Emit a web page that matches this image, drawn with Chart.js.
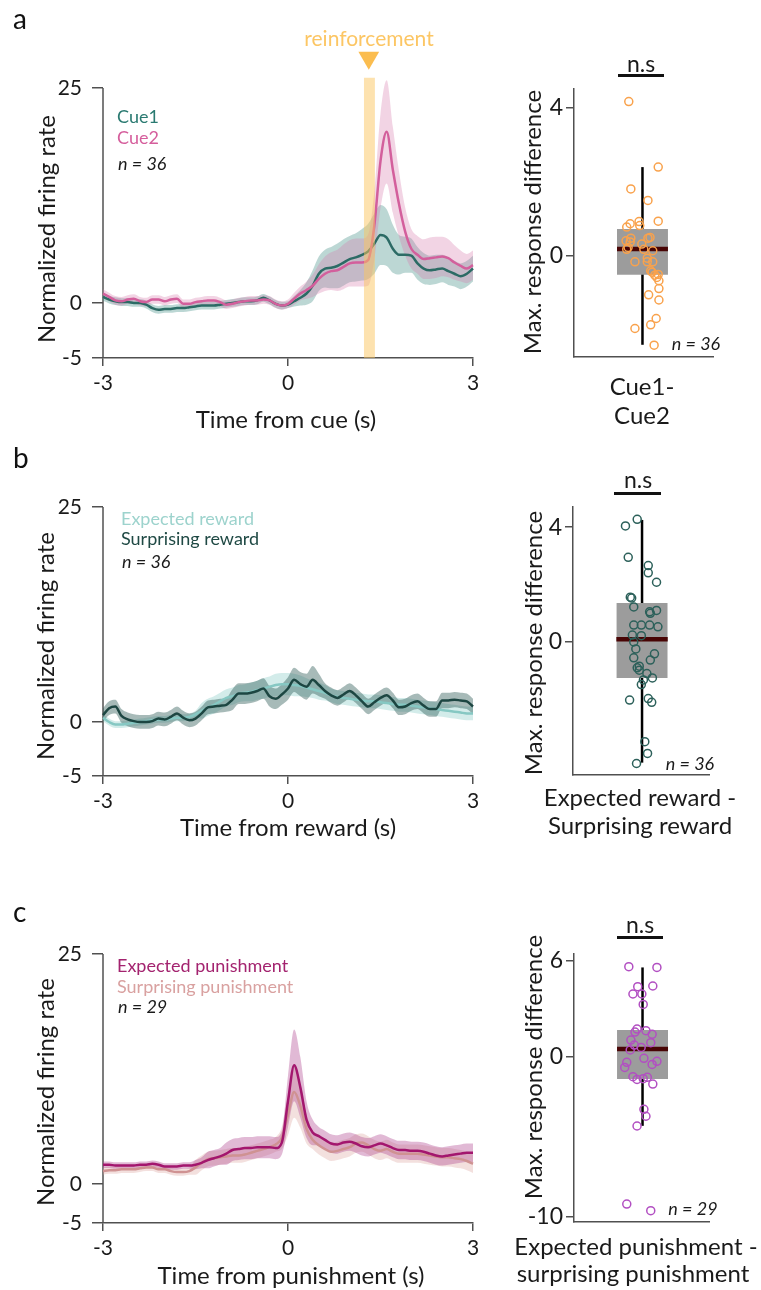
<!DOCTYPE html>
<html>
<head>
<meta charset="utf-8">
<script src="https://cdn.jsdelivr.net/npm/chart.js@4.4.1/dist/chart.umd.min.js"></script>
<style>
  body { margin: 0; background: #fff; }
  #fig { position: relative; width: 761px; height: 1290px; overflow: hidden; font-family: Lato, sans-serif; color: #1a1a1a; }
  canvas { position: absolute; }
  .lbl { position: absolute; white-space: nowrap; line-height: 1; }
  .c { transform: translate(-50%, -50%); }
  .l { transform: translate(0, -50%); }
  .rot { transform: translate(-50%, -50%) rotate(-90deg); }
  .it { font-style: italic; }
  .sig { position: absolute; height: 2.5px; background: #111; }
</style>
</head>
<body>
<div id="fig">
  <canvas id="lineA"></canvas>
  <canvas id="boxA"></canvas>
  <canvas id="lineB"></canvas>
  <canvas id="boxB"></canvas>
  <canvas id="lineC"></canvas>
  <canvas id="boxC"></canvas>
</div>
<script>
// time axis (s)
const time = [-3.0,-2.9,-2.8,-2.7,-2.6,-2.5,-2.4,-2.3,-2.2,-2.1,-2.0,-1.9,-1.8,-1.7,-1.6,-1.5,-1.4,-1.3,-1.2,-1.1,
  -1.0,-0.9,-0.8,-0.7,-0.6,-0.5,-0.4,-0.3,-0.2,-0.1,0.0,0.1,0.2,0.3,0.4,0.5,0.6,0.7,0.8,0.9,
  1.0,1.1,1.2,1.3,1.4,1.5,1.6,1.7,1.8,1.9,2.0,2.1,2.2,2.3,2.4,2.5,2.6,2.7,2.8,2.9,3.0];
const timeTicks = [-3, 0, 3];

// panel a: cue
const cue1Mean = [0.7,0.4,0.2,0.1,0.1,0.0,0.0,-0.2,-0.6,-0.8,-0.7,-0.7,-0.6,-0.6,-0.5,-0.4,-0.3,-0.3,-0.3,-0.2,
  -0.1,0.0,0.1,0.2,0.2,0.3,0.6,0.3,-0.1,-0.3,-0.2,0.2,0.6,1.1,2.0,3.4,4.0,4.1,4.3,4.7,
  5.1,5.3,5.6,6.0,6.9,7.9,7.6,6.3,5.6,5.6,5.5,4.6,4.0,3.8,3.9,4.0,3.7,3.4,3.1,3.4,4.0];
const cue1Sem = [0.45,0.45,0.45,0.45,0.45,0.45,0.45,0.45,0.45,0.45,0.45,0.45,0.45,0.45,0.45,0.45,0.45,0.45,0.45,0.45,
  0.45,0.45,0.45,0.45,0.45,0.45,0.45,0.45,0.45,0.45,0.4,0.6,0.9,1.3,1.8,2.0,2.2,2.4,2.6,2.7,
  2.7,2.8,3.0,3.2,3.5,3.5,3.3,2.8,2.3,2.1,2.0,1.9,1.8,1.7,1.7,1.6,1.6,1.5,1.5,1.5,1.5];
const cue2Mean = [1.1,0.7,0.3,0.2,0.4,0.5,0.2,0.1,0.4,0.4,0.2,0.4,0.5,-0.1,-0.1,0.1,0.2,0.3,0.3,0.1,
  -0.2,-0.1,0.1,0.2,0.3,0.3,0.4,0.3,-0.1,-0.3,-0.1,0.5,1.1,1.5,2.0,2.8,3.4,3.7,3.8,4.2,
  4.6,4.7,4.7,5.0,9.0,16.5,19.9,15.5,11.5,8.3,6.3,5.6,5.1,5.2,5.3,5.4,5.2,4.7,4.3,4.0,4.4];
const cue2Sem = [0.5,0.5,0.5,0.5,0.5,0.5,0.5,0.5,0.5,0.5,0.5,0.5,0.5,0.5,0.5,0.5,0.5,0.5,0.5,0.5,
  0.5,0.5,0.5,0.5,0.5,0.5,0.5,0.5,0.5,0.5,0.5,0.7,0.8,1.0,1.3,1.7,2.0,2.2,2.4,2.6,
  2.7,2.8,2.8,3.0,4.0,5.5,6.0,5.0,3.8,2.8,2.3,2.2,2.3,2.4,2.4,2.3,2.2,2.0,1.8,1.7,1.7];
const reinforcement = [1.23, 1.41];

// panel b: reward
const expRewMean = [0.5,0.0,-0.3,-0.3,-0.2,-0.1,0.0,0.1,0.2,0.3,0.3,0.4,0.5,0.5,0.6,0.9,1.3,1.7,2.0,2.4,
  2.8,3.0,3.3,3.4,3.5,3.7,3.9,4.1,4.3,4.4,4.4,4.3,4.2,4.0,3.8,3.6,3.4,3.1,2.9,2.8,
  2.7,2.6,2.5,2.4,2.4,2.3,2.2,2.1,2.0,2.0,1.9,1.8,1.7,1.6,1.5,1.4,1.3,1.2,1.1,1.0,1.0];
const expRewSem = [0.4,0.4,0.4,0.4,0.4,0.4,0.4,0.4,0.4,0.4,0.4,0.4,0.4,0.4,0.4,0.4,0.9,1.0,1.0,1.0,
  1.0,1.0,1.0,1.0,1.1,1.1,1.2,1.2,1.3,1.3,1.3,1.3,1.2,1.1,1.0,1.0,0.9,0.8,0.8,0.8,
  0.8,0.8,0.8,0.8,0.8,0.8,0.8,0.8,0.8,0.8,0.8,0.8,0.8,0.8,0.8,0.8,0.8,0.8,0.8,0.8,0.8];
const surRewMean = [0.8,1.6,1.8,0.7,0.3,0.1,0.0,0.0,0.1,0.4,0.3,0.6,1.0,0.5,0.2,0.4,1.0,1.7,1.8,1.9,
  2.0,2.6,3.3,3.3,3.4,3.6,3.9,3.0,2.7,3.2,3.9,4.9,4.4,4.1,4.9,4.3,3.6,3.1,2.8,3.2,
  3.6,3.1,2.4,1.8,2.3,2.8,3.1,2.5,1.7,1.8,2.2,2.4,1.9,1.5,1.5,2.5,2.5,2.6,2.5,2.4,1.8];
const surRewSem = [0.8,0.8,0.8,0.8,0.8,0.8,0.8,0.8,0.8,0.8,0.8,0.8,0.8,0.8,0.8,0.8,0.8,0.8,0.8,0.8,
  0.8,1.2,1.2,1.2,1.2,1.2,1.2,1.2,1.2,1.2,1.3,1.4,1.4,1.5,1.6,1.3,0.9,0.9,0.9,0.9,
  0.9,0.9,0.9,0.9,0.9,0.9,0.9,0.9,0.9,0.9,0.9,0.9,0.9,0.9,0.9,0.9,0.9,0.9,0.9,0.9,0.9];

// panel c: punishment
const expPunMean = [2.1,2.1,2.0,2.0,2.0,2.0,2.1,2.1,2.2,2.1,1.9,1.9,1.9,2.0,2.0,2.1,2.3,2.6,2.8,3.0,
  3.3,3.7,3.8,3.9,3.9,4.0,4.0,4.0,3.9,4.5,9.0,12.9,10.5,7.0,5.6,5.2,4.8,4.4,4.3,4.5,
  4.6,4.4,4.1,4.0,4.2,4.4,4.2,3.9,3.7,3.7,3.6,3.6,3.5,3.3,3.1,3.0,3.1,3.2,3.3,3.4,3.4];
const expPunSem = [0.35,0.35,0.35,0.35,0.35,0.35,0.35,0.35,0.35,0.35,0.35,0.35,0.35,0.35,0.35,0.5,0.6,0.9,0.9,0.9,
  1.2,1.2,1.2,1.2,1.2,1.2,1.2,1.2,1.2,1.3,2.8,3.9,3.3,2.0,1.4,1.0,1.0,1.0,1.0,1.0,
  1.0,1.0,1.0,1.0,1.0,1.0,1.0,1.0,1.0,1.0,1.0,1.0,1.0,1.0,1.0,1.0,1.0,1.0,1.0,1.0,1.0];
const surPunMean = [1.4,1.5,1.5,1.6,1.6,1.6,1.7,1.8,1.8,1.6,1.6,1.4,1.3,1.3,1.4,1.8,2.3,2.7,2.8,2.9,
  3.0,3.1,3.1,3.2,3.4,3.6,3.8,4.0,4.3,5.0,7.5,10.0,8.5,6.0,4.8,4.2,3.8,3.5,3.6,3.8,
  4.0,4.4,4.5,4.2,3.8,3.6,3.8,3.5,3.3,3.3,3.3,3.3,3.2,3.1,3.0,2.9,2.9,2.8,2.7,2.5,2.2];
const surPunSem = [0.4,0.4,0.4,0.4,0.4,0.4,0.4,0.4,0.4,0.4,0.4,0.4,0.4,0.4,0.4,0.8,0.8,0.8,0.8,0.8,
  0.8,0.8,0.8,0.8,0.8,0.8,0.8,0.8,0.8,1.2,2.2,2.8,2.4,1.6,1.0,1.0,1.0,1.0,1.0,1.0,
  1.0,1.0,1.0,1.0,1.0,1.0,1.0,1.0,1.0,1.0,1.0,1.0,1.0,1.0,1.0,1.0,1.0,1.0,1.0,1.0,1.0];

// left y axes: tick values and the text printed at them
const yTicksA = [-6.4, 0, 25], yTicksB = [-6.28, 0, 25], yTicksC = [-4.24, 0, 25];
const yTickText = ['-5', '0', '25'];

// max response difference, per neuron (value, horizontal jitter)
const diffA = [4.17,2.40,1.81,1.50,0.94,0.93,0.87,0.82,0.78,0.50,0.48,0.48,0.41,0.38,0.32,0.23,0.18,0.18,
  0.14,-0.06,-0.16,-0.16,-0.16,-0.40,-0.44,-0.52,-0.50,-0.67,-0.88,-1.05,-1.19,-1.69,-1.86,-1.96,-2.41,-0.58];
const jitA = [-0.20,0.23,-0.17,0.08,0.23,-0.05,-0.18,-0.04,-0.23,0.11,0.08,-0.17,-0.24,-0.18,-0.01,-0.21,-0.23,0.02,
  0.15,0.07,-0.11,0.07,0.15,0.12,0.14,0.18,0.23,0.24,0.24,0.09,0.24,0.20,0.12,-0.11,0.17,0.21];
const boxA = [-2.4, -0.51, 0.19, 0.73, 2.4];   // whisker lo, q1, median, q3, whisker hi

const diffB = [4.04,4.27,2.95,2.66,2.41,2.08,1.56,1.53,1.22,1.10,1.00,0.59,0.59,0.59,0.53,0.24,0.22,0.00,
  -0.24,-0.41,-0.55,-0.63,-0.84,-0.98,-1.10,-1.25,-1.32,-1.48,-2.02,-1.97,-2.10,-3.47,-3.88,-4.23,-0.90,1.05];
const jitB = [-0.24,-0.07,-0.20,0.09,0.09,0.21,-0.17,-0.15,-0.12,0.21,0.12,-0.12,-0.01,0.11,0.23,-0.14,-0.01,-0.12,
  -0.09,0.18,-0.12,0.12,-0.04,-0.04,0.07,0.15,0.02,-0.01,-0.18,0.09,0.14,0.04,0.08,-0.08,-0.07,0.11];
const boxB = [-4.2, -1.25, 0.1, 1.36, 4.25];

const diffC = [5.65,5.60,4.40,4.44,3.94,3.94,3.29,1.75,1.65,1.56,1.42,1.06,0.90,0.75,0.60,0.44,-0.08,
  -0.33,-0.27,-0.46,-0.65,-1.23,-1.40,-1.35,-1.27,-1.69,-3.27,-3.70,-4.31,-9.19,-9.60];
const jitC = [-0.20,0.21,-0.07,0.15,-0.14,-0.01,0.01,-0.08,0.05,-0.11,0.14,-0.17,0.12,-0.12,-0.02,-0.18,0.02,
  -0.23,0.21,0.14,-0.26,-0.14,-0.08,0.01,0.07,0.15,0.02,0.05,-0.08,-0.23,0.12];
const boxC = [-4.3, -1.38, 0.5, 1.69, 5.6];
const boxHalf = 0.372;

Chart.defaults.font.family = 'Lato, sans-serif';
Chart.defaults.color = '#1a1a1a';
Chart.defaults.animation = false;
const AXIS = '#505050';

function pts(xs, ys) { return xs.map((x, i) => ({x: x, y: ys[i]})); }
function offset(ys, d, sign) { return ys.map((v, i) => v + sign * d[i]); }

function trace(mean, sem, line, fill, ord) {
  const common = {pointRadius: 0, cubicInterpolationMode: 'monotone', clip: false};
  return [
    Object.assign({data: pts(time, offset(mean, sem, -1)), borderWidth: 0, fill: false, order: ord + 10}, common),
    Object.assign({data: pts(time, offset(mean, sem, 1)), borderWidth: 0, fill: '-1', backgroundColor: fill, order: ord + 10}, common),
    Object.assign({data: pts(time, mean), borderColor: line, borderWidth: 2.5, fill: false, order: ord}, common)
  ];
}

function place(id, c) {
  const cv = document.getElementById(id);
  cv.width = c.w; cv.height = c.h;
  cv.style.left = c.x + 'px'; cv.style.top = c.y + 'px';
  cv.style.width = c.w + 'px'; cv.style.height = c.h + 'px';
  return cv;
}

// y axis line of the time panels stops at the top tick
const yAxisLine = {
  id: 'yAxisLine',
  beforeDatasetsDraw(chart, args, opts) {
    const {ctx, chartArea} = chart;
    const y = chart.scales.y;
    ctx.save();
    ctx.strokeStyle = AXIS;
    ctx.lineWidth = 1.5;
    ctx.beginPath();
    ctx.moveTo(chartArea.left, y.getPixelForValue(opts.top));
    ctx.lineTo(chartArea.left, chartArea.bottom);
    ctx.stroke();
    ctx.restore();
  }
};

function lineChart(id, c, datasets, yTicks, yMax) {
  const cv = place(id, c);
  return new Chart(cv, {
    type: 'line',
    data: {datasets: datasets},
    plugins: [yAxisLine],
    options: {
      responsive: false,
      layout: {padding: {top: c.t - c.y, right: c.x + c.w - c.r, left: 0, bottom: 0}},
      plugins: {legend: {display: false}, tooltip: {enabled: false}, yAxisLine: {top: 25}},
      scales: {
        x: {
          type: 'linear', min: -3, max: 3,
          afterBuildTicks: s => { s.ticks = timeTicks.map(v => ({value: v})); },
          afterFit: s => { s.height = c.y + c.h - c.b; },
          ticks: {font: {size: 21}, padding: 5, maxRotation: 0},
          grid: {drawOnChartArea: false, color: AXIS, lineWidth: 1.5, tickLength: 8},
          border: {display: true, color: AXIS, width: 1.5}
        },
        y: {
          type: 'linear', min: yTicks[0], max: yMax,
          afterBuildTicks: s => { s.ticks = yTicks.map(v => ({value: v})); },
          afterFit: s => { s.width = c.l - c.x; },
          ticks: {font: {size: 21}, padding: 10, callback: (v, i) => yTickText[i]},
          grid: {drawOnChartArea: false, color: AXIS, lineWidth: 1.5, tickLength: 11},
          border: {display: false}
        }
      }
    }
  });
}

function boxChart(id, c, vals, jit, st, color, yMin, yMax, yTicks, xMax) {
  const cv = place(id, c);
  const edge = {type: 'line', borderWidth: 0, pointRadius: 0, order: 2};
  return new Chart(cv, {
    type: 'scatter',
    data: {datasets: [
      {type: 'scatter', data: pts(jit, vals), pointRadius: 4, borderWidth: 1.5, pointBorderWidth: 1.5,
        borderColor: color, backgroundColor: 'rgba(0,0,0,0)', order: 0, clip: false},
      {type: 'line', data: [{x: -boxHalf, y: st[2]}, {x: boxHalf, y: st[2]}], borderColor: '#480404',
        borderWidth: 4.5, pointRadius: 0, order: 1},
      Object.assign({data: [{x: -boxHalf, y: st[1]}, {x: boxHalf, y: st[1]}], fill: false}, edge),
      Object.assign({data: [{x: -boxHalf, y: st[3]}, {x: boxHalf, y: st[3]}], fill: '-1', backgroundColor: '#9c9c9c'}, edge),
      {type: 'line', data: [{x: 0, y: st[0]}, {x: 0, y: st[4]}], borderColor: '#000', borderWidth: 2.5,
        pointRadius: 0, order: 3}
    ]},
    options: {
      responsive: false,
      layout: {padding: {top: c.t - c.y, right: c.x + c.w - c.r, left: 0, bottom: 0}},
      plugins: {legend: {display: false}, tooltip: {enabled: false}},
      scales: {
        x: {
          type: 'linear', min: -1, max: xMax,
          afterFit: s => { s.height = c.y + c.h - c.b; },
          ticks: {display: false},
          grid: {display: false, drawTicks: false},
          border: {display: true, color: AXIS, width: 1.5}
        },
        y: {
          type: 'linear', min: yMin, max: yMax,
          afterBuildTicks: s => { s.ticks = yTicks.map(v => ({value: v})); },
          afterFit: s => { s.width = c.l - c.x; },
          ticks: {font: {size: 23}, padding: 3},
          grid: {drawOnChartArea: false, color: AXIS, lineWidth: 1.5, tickLength: 8},
          border: {display: true, color: AXIS, width: 1.5}
        }
      }
    }
  });
}

// panel a, time course (area reaches up to the reinforcement arrow)
const setsA = [
  {data: pts(reinforcement, [26.2, 26.2]), borderWidth: 0, pointRadius: 0, fill: 'start',
    backgroundColor: 'rgba(252,198,95,0.5)', order: 0},
  {type: 'scatter', data: [{x: 1.31, y: 28.5}], pointStyle: 'triangle', rotation: 180, pointRadius: 12,
    backgroundColor: '#fbbd4f', borderColor: '#fbbd4f', borderWidth: 0, clip: false, order: 0}
].concat(trace(cue2Mean, cue2Sem, '#d35f9c', 'rgba(214,120,170,0.32)', 1),
         trace(cue1Mean, cue1Sem, '#2c6b65', 'rgba(70,145,135,0.36)', 2));
lineChart('lineA', {x: 0, y: 0, w: 490, h: 440, l: 103, r: 473, t: 46, b: 358}, setsA, yTicksA, 29.88);

// panel b, time course
const setsB = [].concat(trace(surRewMean, surRewSem, '#1d4642', 'rgba(45,90,85,0.42)', 1),
                        trace(expRewMean, expRewSem, '#86c8c3', 'rgba(140,205,200,0.38)', 2));
lineChart('lineB', {x: 0, y: 440, w: 490, h: 400, l: 103, r: 473, t: 507, b: 776}, setsB, yTicksB, 25);

// panel c, time course
const setsC = [].concat(trace(expPunMean, expPunSem, '#a3166e', 'rgba(175,70,145,0.38)', 1),
                        trace(surPunMean, surPunSem, '#cf9292', 'rgba(222,165,160,0.35)', 2));
lineChart('lineC', {x: 0, y: 860, w: 490, h: 430, l: 103, r: 473, t: 954, b: 1223}, setsC, yTicksC, 25);

// box plots
boxChart('boxA', {x: 490, y: 40, w: 271, h: 400, l: 574, r: 713, t: 89, b: 357},
  diffA, jitA, boxA, '#f9a24c', -2.73, 4.51, [0, 4], 1.03);
boxChart('boxB', {x: 490, y: 470, w: 271, h: 370, l: 573, r: 709, t: 507, b: 775},
  diffB, jitB, boxB, '#2c605a', -4.63, 4.70, [0, 4], 0.97);
boxChart('boxC', {x: 490, y: 900, w: 271, h: 390, l: 574, r: 709, t: 954, b: 1222},
  diffC, jitC, boxC, '#b24fc2', -10.31, 6.44, [-10, 0, 6], 0.97);

// text
const labels = [
  ['a', 13, 18, 28, '#111', 'l'], ['b', 13, 457, 28, '#111', 'l'], ['c', 13, 911, 28, '#111', 'l'],
  ['reinforcement', 369, 37, 21, '#fcc664', 'c'],
  ['Cue1', 117, 116, 18, '#2a7a71', 'l'], ['Cue2', 117, 137, 18, '#d55e9c', 'l'],
  ['n = 36', 118, 163, 18, '#1a1a1a', 'l', 1],
  ['Normalized firing rate', 46, 229, 24, '#1a1a1a', 'rot'],
  ['Time from cue (s)', 286, 419, 24, '#1a1a1a', 'c'],
  ['n.s', 641, 63, 23, '#1a1a1a', 'c'],
  ['Max. response difference', 532, 222, 24, '#1a1a1a', 'rot'],
  ['n = 36', 696, 343, 18, '#1a1a1a', 'c', 1],
  ['Cue1-', 642, 386, 24, '#1a1a1a', 'c'], ['Cue2', 642, 415, 24, '#1a1a1a', 'c'],

  ['Expected reward', 121, 518, 18, '#9dd3cd', 'l'], ['Surprising reward', 121, 538, 18, '#1f4944', 'l'],
  ['n = 36', 122, 561, 18, '#1a1a1a', 'l', 1],
  ['Normalized firing rate', 45, 646, 24, '#1a1a1a', 'rot'],
  ['Time from reward (s)', 288, 827, 24, '#1a1a1a', 'c'],
  ['n.s', 638, 479, 23, '#1a1a1a', 'c'],
  ['Max. response difference', 533, 643, 24, '#1a1a1a', 'rot'],
  ['n = 36', 690, 763, 18, '#1a1a1a', 'c', 1],
  ['Expected reward -', 640, 797, 24, '#1a1a1a', 'c'], ['Surprising reward', 640, 825, 24, '#1a1a1a', 'c'],

  ['Expected punishment', 117, 965, 18, '#a3236f', 'l'], ['Surprising punishment', 117, 986, 18, '#d9a1a0', 'l'],
  ['n = 29', 118, 1006, 18, '#1a1a1a', 'l', 1],
  ['Normalized firing rate', 45, 1092, 24, '#1a1a1a', 'rot'],
  ['Time from punishment (s)', 291, 1275, 24, '#1a1a1a', 'c'],
  ['n.s', 640, 924, 23, '#1a1a1a', 'c'],
  ['Max. response difference', 533, 1067, 24, '#1a1a1a', 'rot'],
  ['n = 29', 693, 1208, 18, '#1a1a1a', 'c', 1],
  ['Expected punishment -', 636, 1246, 24, '#1a1a1a', 'c'], ['surprising punishment', 633, 1273, 24, '#1a1a1a', 'c']
];
const fig = document.getElementById('fig');
labels.forEach(d => {
  const el = document.createElement('div');
  el.className = 'lbl ' + d[5] + (d[6] ? ' it' : '');
  el.textContent = d[0];
  el.style.left = d[1] + 'px';
  el.style.top = d[2] + 'px';
  el.style.fontSize = d[3] + 'px';
  el.style.color = d[4];
  fig.appendChild(el);
});
// significance bars
[[618, 664, 75], [614, 661, 493], [617, 663, 937]].forEach(b => {
  const el = document.createElement('div');
  el.className = 'sig';
  el.style.left = b[0] + 'px';
  el.style.width = (b[1] - b[0]) + 'px';
  el.style.top = (b[2] - 1) + 'px';
  fig.appendChild(el);
});
</script>
</body>
</html>
